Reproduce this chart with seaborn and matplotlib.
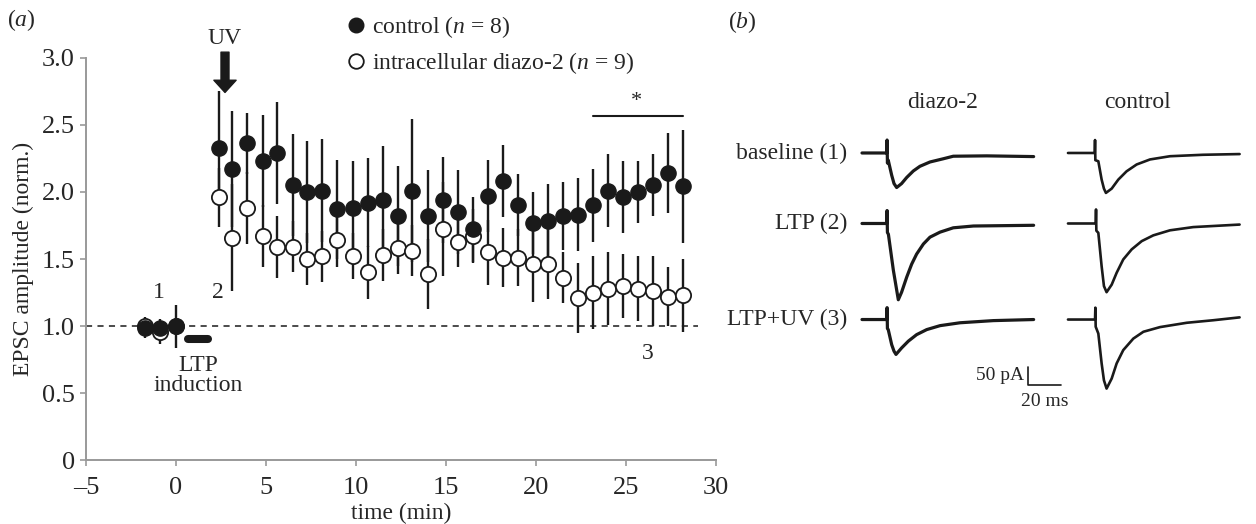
#!/usr/bin/env python3
"""EPSC amplitude time course (a) and example EPSC traces (b)."""

import matplotlib

matplotlib.use("Agg")
import matplotlib.pyplot as plt
import numpy as np
import seaborn as sns
from matplotlib.lines import Line2D

# ---- panel (a): normalised EPSC amplitude -------------------------------
TIME_MIN = [
    -1.72, -0.89, 0.00,
    2.39, 3.11, 3.94, 4.83, 5.61, 6.50, 7.28, 8.11, 8.94, 9.83, 10.67, 11.50,
    12.33, 13.11, 14.00, 14.83, 15.67, 16.50, 17.33, 18.17, 19.00, 19.83, 20.67,
    21.50, 22.33, 23.17, 24.00, 24.83, 25.67, 26.50, 27.33, 28.17,
]
CONTROL_MEAN = [
    0.99, 0.99, 1.00,
    2.33, 2.17, 2.36, 2.23, 2.29, 2.05, 2.00, 2.01, 1.87, 1.88, 1.92, 1.94,
    1.82, 2.01, 1.82, 1.94, 1.85, 1.72, 1.97, 2.08, 1.90, 1.77, 1.78,
    1.82, 1.83, 1.90, 2.01, 1.96, 2.00, 2.05, 2.14, 2.04,
]
CONTROL_SEM = [
    0.08, 0.04, 0.16,
    0.42, 0.43, 0.23, 0.34, 0.38, 0.38, 0.38, 0.38, 0.37, 0.35, 0.33, 0.40,
    0.37, 0.53, 0.34, 0.32, 0.31, 0.24, 0.27, 0.27, 0.23, 0.23, 0.28,
    0.25, 0.27, 0.27, 0.27, 0.27, 0.23, 0.23, 0.30, 0.42,
]
DIAZO_MEAN = [
    1.00, 0.96, 1.00,
    1.96, 1.66, 1.88, 1.67, 1.59, 1.59, 1.50, 1.52, 1.64, 1.52, 1.40, 1.53,
    1.58, 1.56, 1.39, 1.72, 1.63, 1.67, 1.55, 1.51, 1.51, 1.46, 1.46,
    1.36, 1.21, 1.25, 1.28, 1.30, 1.28, 1.26, 1.22, 1.23,
]
DIAZO_SEM = [
    0.05, 0.09, 0.05,
    0.22, 0.40, 0.27, 0.23, 0.23, 0.19, 0.19, 0.19, 0.20, 0.17, 0.20, 0.19,
    0.19, 0.19, 0.26, 0.35, 0.19, 0.20, 0.24, 0.22, 0.21, 0.28, 0.26,
    0.19, 0.26, 0.27, 0.27, 0.24, 0.24, 0.26, 0.22, 0.27,
]
LEGEND_LABELS = ["control ($n$ = 8)", "intracellular diazo-2 ($n$ = 9)"]

# ---- panel (b): example traces (ms from sweep start, pA re. baseline) ---
DIAZO_BASE_T = [0, 15.0, 15.2, 15.4, 15.9, 18.0, 19.4, 21.0, 24.0, 27.1, 31.1, 35.1,
                41.2, 49.3, 55.3, 75.6, 104.0]
DIAZO_BASE_I = [0, 0, 36, -28, -20, -62, -85, -96, -85, -68, -50, -37,
                -25, -16, -9, -8, -10]
DIAZO_LTP_T = [0, 15.0, 15.2, 15.4, 16.0, 19.0, 22.0, 24.0, 27.1, 30.1, 33.1, 37.2,
               41.2, 47.3, 55.3, 67.5, 104.0]
DIAZO_LTP_I = [0, 0, 36, -25, -30, -130, -212, -191, -149, -113, -85, -57,
               -38, -24, -12, -7, -5]
DIAZO_UV_T = [0, 15.0, 15.2, 15.4, 15.9, 18.0, 19.4, 20.6, 24.0, 28.1, 33.1, 39.2,
              47.3, 59.4, 79.6, 104.0]
DIAZO_UV_I = [0, 0, 33, -25, -28, -70, -88, -97, -79, -60, -42, -28,
              -17, -9, -3, 0]
CONTROL_BASE_T = [0, 16.2, 16.4, 16.6, 18.4, 20.4, 21.8, 23.0, 26.5, 30.5, 35.5,
                  41.6, 49.7, 61.8, 81.8, 104.0]
CONTROL_BASE_I = [0, 0, 36, -20, -23, -74, -99, -111, -99, -74, -51,
                  -32, -18, -9, -5, -3]
CONTROL_LTP_T = [0, 16.8, 17.0, 17.2, 18.4, 20.4, 21.8, 23.4, 26.5, 29.5, 33.5,
                 38.6, 44.7, 51.7, 61.8, 75.9, 104.0]
CONTROL_LTP_I = [0, 0, 39, -20, -26, -119, -174, -191, -170, -137, -100,
                 -72, -49, -33, -19, -10, -3]
CONTROL_UV_T = [0, 16.4, 16.6, 16.8, 18.4, 20.4, 21.8, 23.4, 26.5, 29.5, 33.5,
                39.6, 45.7, 55.8, 72.0, 88.0, 104.0]
CONTROL_UV_I = [0, 0, 33, -20, -39, -122, -169, -192, -164, -122, -85,
                -53, -34, -21, -9, -2, 6]

ROW_LABELS = ["baseline (1)", "LTP (2)", "LTP+UV (3)"]
COL_LABELS = ["diazo-2", "control"]

# layout of panel (b)
ROW_OFFSET_PA = [0, -196, -463]
COL_OFFSET_MS = [0, 124.8]

INK = "#1a1a1a"
SPINE = "#999999"
FS = 17
TICK_FS = 19


def main() -> None:
    sns.set_theme(style="ticks")
    plt.rcParams["font.family"] = ["Liberation Serif", "DejaVu Serif"]
    plt.rcParams["mathtext.fontset"] = "custom"
    plt.rcParams["mathtext.rm"] = "Liberation Serif"
    plt.rcParams["mathtext.it"] = "Liberation Serif:italic"

    fig = plt.figure(figsize=(12.56, 5.24), dpi=100)

    # ---------------- panel (a) ----------------
    ax = fig.add_axes([0.0685, 0.1212, 0.5016, 0.769])
    ax.axhline(1.0, xmin=0, xmax=34 / 35, color=INK, lw=1.1, ls=(0, (4, 3.5)), zorder=1)

    ax.errorbar(TIME_MIN, DIAZO_MEAN, yerr=DIAZO_SEM, fmt="none",
                ecolor=INK, elinewidth=1.7, capsize=0, zorder=2)
    ax.errorbar(TIME_MIN, CONTROL_MEAN, yerr=CONTROL_SEM, fmt="none",
                ecolor=INK, elinewidth=1.7, capsize=0, zorder=2)
    sns.scatterplot(x=TIME_MIN, y=DIAZO_MEAN, ax=ax, s=120, color="white",
                    edgecolor=INK, linewidth=1.3, zorder=3)
    sns.scatterplot(x=TIME_MIN, y=CONTROL_MEAN, ax=ax, s=120, color=INK,
                    edgecolor=INK, linewidth=1.0, zorder=4)

    ax.set_xlim(-5, 30)
    ax.set_ylim(0, 3.0)
    ax.set_xticks(np.arange(-5, 31, 5))
    ax.set_xticklabels(["\u20135", "0", "5", "10", "15", "20", "25", "30"])
    ax.set_yticks(np.arange(0, 3.01, 0.5))
    ax.set_yticklabels(["0", "0.5", "1.0", "1.5", "2.0", "2.5", "3.0"])
    ax.tick_params(labelsize=TICK_FS, color=SPINE, length=4, width=1.2, pad=4)
    ax.tick_params(axis="x", pad=8)
    sns.despine(ax=ax)
    for side in ("left", "bottom"):
        ax.spines[side].set_color(SPINE)
        ax.spines[side].set_linewidth(1.4)
    ax.set_xlabel("time (min)", fontsize=FS, labelpad=3)
    ax.set_ylabel("EPSC amplitude (norm.)", fontsize=FS, labelpad=6)

    # annotations
    ax.annotate("", xy=(2.72, 2.74), xytext=(2.72, 3.04), annotation_clip=False,
                arrowprops=dict(arrowstyle="simple,head_length=0.55,head_width=1.0,tail_width=0.36",
                                color=INK, mutation_scale=16, shrinkA=0, shrinkB=0))
    ax.text(2.72, 3.14, "UV", ha="center", va="center", fontsize=FS)
    ax.plot([0.66, 1.78], [0.905, 0.905], color=INK, lw=5.8, solid_capstyle="round")
    ax.text(1.22, 0.63, "LTP\ninduction", ha="center", va="center", fontsize=FS,
            linespacing=0.95)
    ax.text(-0.94, 1.25, "1", ha="center", va="center", fontsize=FS)
    ax.text(2.3, 1.25, "2", ha="center", va="center", fontsize=FS)
    ax.text(26.2, 0.80, "3", ha="center", va="center", fontsize=FS)
    ax.plot([23.17, 28.17], [2.565, 2.565], color=INK, lw=1.5, clip_on=False)
    ax.text(25.6, 2.67, "*", ha="center", va="center", fontsize=FS - 1)

    handles = [
        Line2D([], [], ls="", marker="o", markersize=10.5, markerfacecolor=INK,
               markeredgecolor=INK),
        Line2D([], [], ls="", marker="o", markersize=10.5, markerfacecolor="white",
               markeredgecolor=INK, markeredgewidth=1.3),
    ]
    fig.legend(handles, LEGEND_LABELS, loc="center left",
               bbox_to_anchor=(330 / 1256, 1 - 45 / 524), frameon=False,
               fontsize=FS, handlelength=0.8, handletextpad=0.3,
               labelspacing=0.42, borderpad=0.2)

    fig.text(7 / 1256, 1 - 20 / 524, "($a$)", fontsize=FS, va="center", ha="left")
    fig.text(728 / 1256, 1 - 22 / 524, "($b$)", fontsize=FS, va="center", ha="left")

    # ---------------- panel (b) ----------------
    axb = fig.add_axes([850 / 1256, 1 - 410 / 524, 400 / 1256, 290 / 524])
    axb.set_xlim(-7.27, 235.1)
    axb.set_ylim(-714.5, 91.7)
    axb.axis("off")

    traces = [
        (DIAZO_BASE_T, DIAZO_BASE_I, 0, 0),
        (DIAZO_LTP_T, DIAZO_LTP_I, 1, 0),
        (DIAZO_UV_T, DIAZO_UV_I, 2, 0),
        (CONTROL_BASE_T, CONTROL_BASE_I, 0, 1),
        (CONTROL_LTP_T, CONTROL_LTP_I, 1, 1),
        (CONTROL_UV_T, CONTROL_UV_I, 2, 1),
    ]
    for t, i, row, col in traces:
        x = np.asarray(t) + COL_OFFSET_MS[col]
        y = np.asarray(i) + ROW_OFFSET_PA[row]
        sns.lineplot(x=x, y=y, ax=axb, color=INK, lw=2.3 if col == 0 else 1.9,
                     sort=False, estimator=None)

    for row, label in enumerate(ROW_LABELS):
        axb.text(-9.0, ROW_OFFSET_PA[row], label, ha="right", va="center", fontsize=FS)
    for x, label in zip([49.0, 166.7], COL_LABELS):
        axb.text(x, 139, label, ha="center", va="center", fontsize=FS)

    # scale bar: 50 pA / 20 ms
    axb.plot([100.6, 100.6, 120.6], [-595, -645, -645], color=INK, lw=1.2)
    axb.text(98.0, -618, "50 pA", ha="right", va="center", fontsize=FS - 3)
    axb.text(110.6, -690, "20 ms", ha="center", va="center", fontsize=FS - 3)

    fig.savefig("out.png", dpi=100)


if __name__ == "__main__":
    main()
